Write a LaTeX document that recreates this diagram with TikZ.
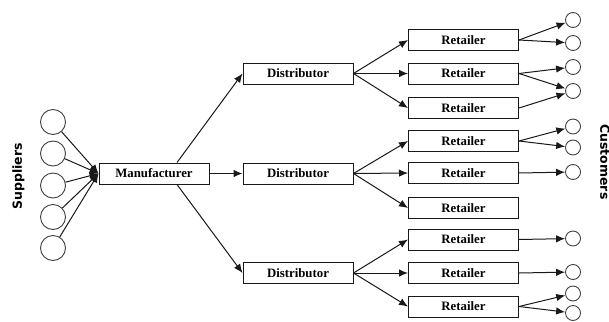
\documentclass[tikz,border=0pt]{standalone}
\usepackage{fontspec}
\setmainfont{Liberation Serif}
\newfontfamily\labelfont{DejaVu Sans}
\usetikzlibrary{arrows.meta}
\tikzset{
  box/.style={draw=black!90, line width=1pt, minimum width=110pt, minimum height=21pt, inner sep=0pt, font=\fontsize{12.8}{14}\selectfont\bfseries},
  sup/.style={draw=black!75, line width=0.9pt, circle, minimum size=25pt, inner sep=0pt},
  cust/.style={draw=black!75, line width=0.9pt, circle, minimum size=15pt, inner sep=0pt},
  arr/.style={draw=black!90, line width=1pt, -{Latex[length=9pt,width=7.5pt]}},
  side/.style={font=\labelfont\fontsize{12.5}{14}\selectfont\bfseries, inner sep=0pt}
}
\begin{document}
\begin{tikzpicture}[x=1pt,y=-1pt]
\useasboundingbox (0,0) rectangle (609,321);
% labels
\node[side, rotate=90] (lsup) at (18.5,176.5) {Suppliers};
\node[side, rotate=-90] (lcus) at (605,162) {Customers};
% suppliers
\foreach \i/\y in {1/122,2/153.5,3/185.5,4/217,5/248}
  \node[sup] (s\i) at (53,\y) {};
% manufacturer
\node[box] (m) at (154,173.5) {Manufacturer};
% distributors
\node[box] (d1) at (298,73.5) {Distributor};
\node[box] (d2) at (298,173.5) {Distributor};
\node[box] (d3) at (298,273) {Distributor};
% retailers
\foreach \i/\y in {1/40,2/73.5,3/108,4/141,5/173,6/208,7/239.5,8/273,9/306.5}
  \node[box] (r\i) at (463.5,\y) {Retailer};
% customers
\foreach \i/\y in {1/20,2/43,3/67,4/91,5/126.5,6/147.5,7/172,8/238.5,9/272,10/293.5,11/313}
  \node[cust] (c\i) at (573,\y) {};
% supplier -> manufacturer
\foreach \i in {1,...,5}
  \draw[arr] (s\i) -- (m.west);
% manufacturer -> distributors
\coordinate (mt) at ([xshift=23pt]m.north);
\coordinate (mb) at ([xshift=23pt]m.south);
\draw[arr] (mt) -- (d1.west);
\draw[arr] (m.east) -- (d2.west);
\draw[arr] (mb) -- (d3.west);
% distributors -> retailers
\foreach \r in {1,2,3} \draw[arr] (d1.east) -- (r\r.west);
\foreach \r in {4,5,6} \draw[arr] (d2.east) -- (r\r.west);
\foreach \r in {7,8,9} \draw[arr] (d3.east) -- (r\r.west);
% retailers -> customers
\foreach \r/\c in {1/1,1/2,2/3,2/4,3/4,4/5,4/6,5/7,7/8,8/9,9/10,9/11}
  \draw[arr] (r\r.east) -- (c\c);
\end{tikzpicture}
\end{document}
